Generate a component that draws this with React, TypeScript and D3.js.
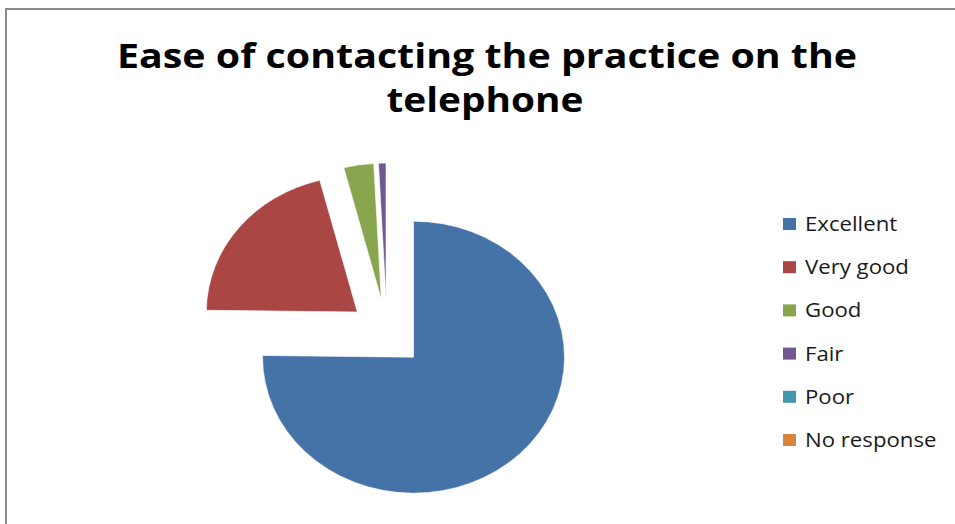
import React from "react";
import * as d3 from "d3";

const categories = ["Excellent", "Very good", "Good", "Fair", "Poor", "No response"];
const counts = [94, 26, 4, 1, 0, 0];
const colors = ["#4572A7", "#AA4643", "#89A54E", "#71588F", "#4198AF", "#DB843D"];
const titleLines = ["Ease of contacting the practice on the", "telephone"];

const W = 955;
const H = 524;

export default function App() {
  const cx = 387;
  const cy = 333;
  const ry = 136;
  const rx = 151;
  const explode = 0.25 * ry;

  const pie = d3
    .pie<number>()
    .sort(null)
    .value((d) => d)
    .startAngle(0)
    .endAngle(2 * Math.PI);
  const arcs = pie(counts);
  const arc = d3.arc<d3.PieArcDatum<number>>().innerRadius(0).outerRadius(ry);

  const legendY = d3
    .scalePoint<string>()
    .domain(categories)
    .range([231, 447]);

  return (
    <svg
      width={W}
      height={H}
      style={{ position: "absolute", left: 0, top: 0, background: "#fff" }}
    >
      <rect x={0} y={0} width={W} height={H} fill="#fff" />
      <path d={`M6,${H + 5} L6,9 L${W + 5},9`} fill="none" stroke="#8a8a8a" strokeWidth={2} />

      <g fontFamily="'Open Sans', sans-serif" fontWeight="bold" fill="#000">
        <text x={487} y={68} fontSize={34} textAnchor="middle" textLength={740} lengthAdjust="spacingAndGlyphs">
          {titleLines[0]}
        </text>
        <text x={485} y={112} fontSize={34} textAnchor="middle" textLength={197} lengthAdjust="spacingAndGlyphs">
          {titleLines[1]}
        </text>
      </g>

      <g transform={`translate(${cx},${cy}) scale(${rx / ry},1)`}>
        {arcs.map((a, i) => {
          if (a.endAngle - a.startAngle <= 0) return null;
          const mid = (a.startAngle + a.endAngle) / 2;
          const dx = Math.sin(mid) * explode;
          const dy = -Math.cos(mid) * explode;
          return (
            <path
              key={categories[i]}
              d={arc(a) || ""}
              transform={`translate(${dx},${dy})`}
              fill={colors[i]}
              stroke="#ffffff"
              strokeWidth={0.6}
            />
          );
        })}
      </g>

      <g fontFamily="'Open Sans', sans-serif" fontSize={20} fill="#1a1a1a">
        {categories.map((c, i) => {
          const y = legendY(c) as number;
          return (
            <g key={c}>
              <rect x={783} y={y - 13} width={13} height={12} fill={colors[i]} />
              <g transform={`translate(805,${y}) scale(1.11,1)`}>
                <text x={0} y={0}>{c}</text>
              </g>
            </g>
          );
        })}
      </g>
    </svg>
  );
}
